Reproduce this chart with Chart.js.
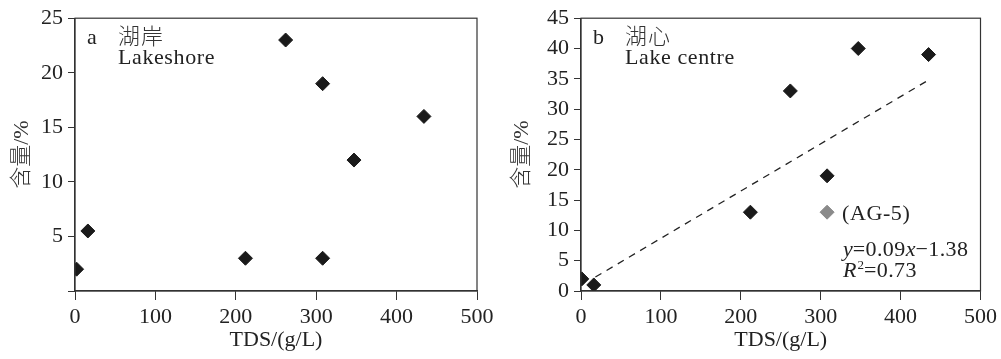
<!DOCTYPE html>
<html>
<head>
<meta charset="utf-8">
<script src="https://cdn.jsdelivr.net/npm/chart.js@4/dist/chart.umd.min.js"></script>
<style>
  body { margin: 0; background: #fff; }
  .box { position: absolute; top: 0; }
</style>
</head>
<body>
<div class="box" style="left:0"><canvas id="chartA" width="500" height="359"></canvas></div>
<div class="box" style="left:500px"><canvas id="chartB" width="501" height="359"></canvas></div>
<script>
// panel a: lakeshore
var shoreTDS = [2, 16, 212, 262, 308, 308, 347, 434];
var shoreContent = [2, 5.5, 3, 23, 19, 3, 12, 16];
// panel b: lake centre
var centreTDS = [1, 16, 212, 262, 308, 347, 435];
var centreContent = [2, 1, 13, 33, 19, 40, 39];
var ag5TDS = [308];
var ag5Content = [13];
var trendTDS = [18, 435];
var trendContent = [2.3, 34.8];

var xTicks = [0, 100, 200, 300, 400, 500];

var SERIF = "'Liberation Serif', 'Times New Roman', 'Noto Sans CJK SC', serif";
var INK = '#222';
var FS = 22;

function pts(xs, ys) {
    return xs.map(function (x, i) { return { x: x, y: ys[i] }; });
}

// closed frame round the plot area
var framePlugin = {
    id: 'frame',
    afterDraw: function (chart) {
        var a = chart.chartArea, ctx = chart.ctx;
        ctx.save();
        ctx.strokeStyle = '#333';
        ctx.lineWidth = 1.2;
        ctx.strokeRect(a.left, a.top, a.right - a.left, a.bottom - a.top);
        ctx.restore();
    }
};

// text notes, each a row of runs, placed relative to the plot area
var notesPlugin = {
    id: 'notes',
    afterDraw: function (chart, args, opts) {
        var a = chart.chartArea, ctx = chart.ctx;
        ctx.save();
        ctx.textBaseline = 'middle';
        (opts.items || []).forEach(function (t) {
            var x = a.left + t.dx;
            t.runs.forEach(function (r) {
                ctx.fillStyle = r.color || INK;
                ctx.font = (r.style || '') + ' ' + (r.size || FS) + 'px ' + SERIF;
                ctx.letterSpacing = (r.ls || 0) + 'px';
                ctx.fillText(r.text, x, a.top + t.dy + (r.up || 0));
                x += ctx.measureText(r.text).width + (r.gap || 0);
            });
        });
        ctx.restore();
    }
};

function makeScales(yMax, yw, showZero) {
    return {
        x: {
            type: 'linear', min: 0, max: 500,
            afterBuildTicks: function (s) { s.ticks = xTicks.map(function (v) { return { value: v }; }); },
            afterFit: function (s) { s.height = 68; },
            grid: { drawOnChartArea: false, drawTicks: true, tickLength: 9, color: '#333' },
            border: { display: true, color: '#333', width: 1.2 },
            ticks: { color: INK, font: { family: SERIF, size: FS }, padding: 4, maxRotation: 0 },
            title: { display: true, text: 'TDS/(g/L)', color: INK, font: { family: SERIF, size: FS }, padding: { top: 0, bottom: 6 } }
        },
        y: {
            type: 'linear', min: 0, max: yMax,
            afterFit: function (s) { s.width = yw; },
            grid: { drawOnChartArea: false, drawTicks: true, tickLength: 7, color: '#333' },
            border: { display: true, color: '#333', width: 1.2 },
            ticks: {
                stepSize: 5, color: INK, font: { family: SERIF, size: FS }, padding: 5,
                callback: function (v) { return (v === 0 && !showZero) ? '' : v; }
            },
            title: { display: true, text: '含量/%', color: '#333', font: { family: SERIF, size: FS, weight: 300 }, padding: { top: 9, bottom: 0 } }
        }
    };
}

function diamonds(data, color, label) {
    return {
        type: 'scatter', label: label, data: data,
        pointStyle: 'rectRot', pointRadius: 7, pointHoverRadius: 7,
        backgroundColor: color, borderColor: color, borderWidth: 1
    };
}

new Chart(document.getElementById('chartA'), {
    type: 'scatter',
    data: { datasets: [diamonds(pts(shoreTDS, shoreContent), '#1a1a1a', '湖岸')] },
    options: {
        responsive: false, animation: false,
        layout: { padding: { top: 15, right: 23, left: 0, bottom: 0 } },
        scales: makeScales(25, 75, false),
        plugins: {
            legend: { display: false }, tooltip: { enabled: false },
            notes: { items: [
                { dx: 12, dy: 20, runs: [{ text: 'a' }] },
                { dx: 43, dy: 20, runs: [{ text: '湖岸', ls: 1, style: '300', color: '#333' }] },
                { dx: 43, dy: 40, runs: [{ text: 'Lakeshore', ls: 0.6 }] }
            ] }
        }
    },
    plugins: [framePlugin, notesPlugin]
});

new Chart(document.getElementById('chartB'), {
    type: 'scatter',
    data: { datasets: [
        {
            type: 'line', label: 'fit', data: pts(trendTDS, trendContent),
            borderColor: '#222', borderWidth: 1.3, borderDash: [7, 6],
            pointRadius: 0, fill: false
        },
        diamonds(pts(centreTDS, centreContent), '#1a1a1a', '湖心'),
        diamonds(pts(ag5TDS, ag5Content), '#8a8a8a', 'AG-5')
    ] },
    options: {
        responsive: false, animation: false,
        layout: { padding: { top: 15, right: 18, left: 0, bottom: 0 } },
        scales: makeScales(45, 81, true),
        plugins: {
            legend: { display: false }, tooltip: { enabled: false },
            notes: { items: [
                { dx: 12, dy: 20, runs: [{ text: 'b' }] },
                { dx: 44, dy: 20, runs: [{ text: '湖心', ls: 1, style: '300', color: '#333' }] },
                { dx: 44, dy: 40, runs: [{ text: 'Lake centre', ls: 0.6 }] },
                { dx: 261, dy: 196, runs: [{ text: '(AG-5)', ls: 0.6 }] },
                { dx: 262, dy: 232, runs: [
                    { text: 'y', style: 'italic' },
                    { text: '=0.09', ls: 0.4 },
                    { text: 'x', style: 'italic' },
                    { text: '\u22121.38', ls: 0.4 }
                ] },
                { dx: 262, dy: 253, runs: [
                    { text: 'R', style: 'italic', gap: 1 },
                    { text: '2', size: 13, up: -6 },
                    { text: '=0.73', ls: 0.4 }
                ] }
            ] }
        }
    },
    plugins: [framePlugin, notesPlugin]
});
</script>
</body>
</html>
